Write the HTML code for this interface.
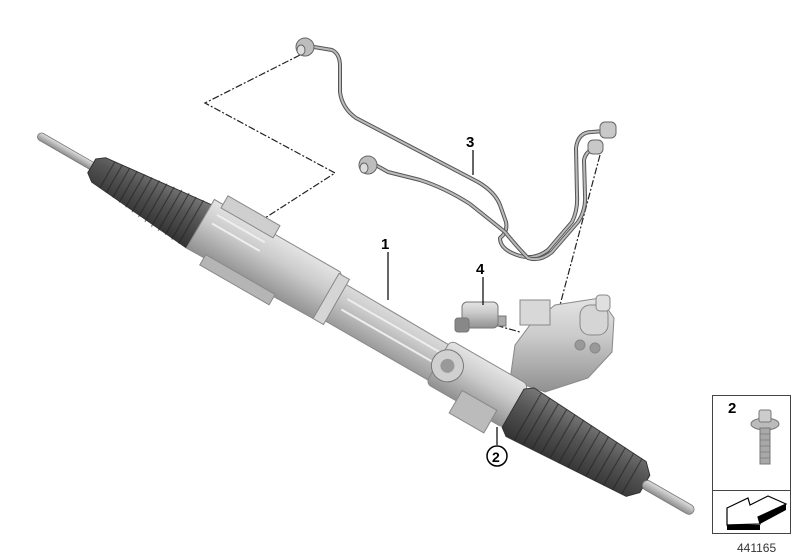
<!DOCTYPE html>
<html><head><meta charset="utf-8"><style>
html,body{margin:0;padding:0;background:#fff;}
svg{display:block}
text{font-family:"Liberation Sans",sans-serif;font-weight:bold;}
text.n{font-weight:normal;}
</style></head><body>
<svg width="800" height="560" viewBox="0 0 800 560" xmlns="http://www.w3.org/2000/svg">
<defs>
<linearGradient id="met" x1="0" y1="0" x2="0" y2="1">
<stop offset="0" stop-color="#e4e4e4"/><stop offset="0.4" stop-color="#cbcbcb"/><stop offset="1" stop-color="#909090"/></linearGradient>
<linearGradient id="boot" x1="0" y1="0" x2="0" y2="1">
<stop offset="0" stop-color="#777"/><stop offset="0.4" stop-color="#555"/><stop offset="1" stop-color="#333"/></linearGradient>
<linearGradient id="rod" x1="0" y1="0" x2="0" y2="1">
<stop offset="0" stop-color="#e0e0e0"/><stop offset="1" stop-color="#8c8c8c"/></linearGradient>
</defs>

<g fill="none" stroke="#222" stroke-width="1.2" stroke-dasharray="7,2,2,2">
<polyline points="300,55 205,103 335,173 265,218"/>
<line x1="600" y1="155" x2="560" y2="305"/>
<line x1="484" y1="322" x2="520" y2="332"/>
</g>

<g fill="none" stroke-linecap="round" stroke-linejoin="round">
<path d="M308,46 L332,50 Q340,54 340,66 L340,92 Q342,108 356,118 L478,182 Q495,192 500,205 L506,222 Q508,232 500,238 Q500,250 520,256 Q535,260 548,250 L572,222 Q578,210 577,195 L576,148 Q578,132 592,132 L604,131" stroke="#555" stroke-width="4"/>
<path d="M308,46 L332,50 Q340,54 340,66 L340,92 Q342,108 356,118 L478,182 Q495,192 500,205 L506,222 Q508,232 500,238 Q500,250 520,256 Q535,260 548,250 L572,222 Q578,210 577,195 L576,148 Q578,132 592,132 L604,131" stroke="#bbb" stroke-width="2"/>
<path d="M372,163 L388,172 L420,180 Q445,188 470,204 L505,232 Q518,248 528,258 Q540,262 552,252 L578,222 Q586,210 585,195 L584,160 Q586,150 596,149" stroke="#555" stroke-width="4"/>
<path d="M372,163 L388,172 L420,180 Q445,188 470,204 L505,232 Q518,248 528,258 Q540,262 552,252 L578,222 Q586,210 585,195 L584,160 Q586,150 596,149" stroke="#bbb" stroke-width="2"/>
</g>
<g stroke="#666" stroke-width="1">
<ellipse cx="305" cy="47" rx="9" ry="9" fill="#bdbdbd"/><ellipse cx="301" cy="50" rx="4" ry="5" fill="#ddd"/>
<ellipse cx="368" cy="165" rx="9" ry="9" fill="#bdbdbd"/><ellipse cx="364" cy="168" rx="4" ry="5" fill="#ddd"/>
<rect x="600" y="122" width="16" height="16" rx="5" fill="#c8c8c8"/>
<rect x="588" y="140" width="15" height="14" rx="5" fill="#c8c8c8"/>
</g>

<!-- pinion housing (behind rack) -->
<g stroke="#888" stroke-width="1">
<path d="M515,345 L530,325 L555,305 L600,298 L614,318 L612,352 L588,378 L545,392 L510,380 Z" fill="url(#met)"/>
<rect x="520" y="300" width="30" height="25" fill="#d8d8d8"/>
<rect x="580" y="305" width="28" height="30" rx="10" fill="#d5d5d5"/>
<rect x="596" y="295" width="14" height="16" rx="4" fill="#e0e0e0"/>
<circle cx="580" cy="345" r="5" fill="#999"/><circle cx="595" cy="348" r="5" fill="#999"/>
</g>

<g transform="translate(38,135) rotate(29.9)">
<rect x="0" y="-4" width="70" height="8" rx="4" fill="url(#rod)" stroke="#777" stroke-width="0.8"/>
<path d="M62,-8 L70,-14 L185,-26 L190,-20 L190,20 L185,24 L70,14 L62,8 Z" fill="url(#boot)" stroke="#333" stroke-width="1"/>
<g stroke="#222" stroke-width="1.2" opacity="0.6">
<line x1="80" y1="-15" x2="80" y2="15"/><line x1="88" y1="-16" x2="88" y2="16"/><line x1="96" y1="-17" x2="96" y2="17"/><line x1="104" y1="-18" x2="104" y2="18"/><line x1="112" y1="-19" x2="112" y2="19"/><line x1="120" y1="-20" x2="120" y2="20"/><line x1="128" y1="-21" x2="128" y2="21"/><line x1="136" y1="-22" x2="136" y2="22"/><line x1="144" y1="-23" x2="144" y2="23"/><line x1="152" y1="-24" x2="152" y2="23"/><line x1="160" y1="-25" x2="160" y2="23"/><line x1="168" y1="-25" x2="168" y2="24"/><line x1="176" y1="-26" x2="176" y2="24"/>
</g>
<path d="M185,-32 L330,-32 L340,-24 L560,-22 L560,18 L340,18 L330,22 L185,24 Z" fill="url(#met)" stroke="#888" stroke-width="1"/>
<rect x="195" y="-42" width="60" height="14" fill="#cfcfcf" stroke="#888"/>
<rect x="205" y="20" width="80" height="12" fill="#b5b5b5" stroke="#888"/>
<g stroke="#eee" stroke-width="2"><line x1="195" y1="-20" x2="250" y2="-20"/><line x1="195" y1="-10" x2="250" y2="-10"/><line x1="350" y1="-12" x2="460" y2="-12"/><line x1="350" y1="0" x2="460" y2="0"/></g>
<rect x="330" y="-30" width="12" height="52" fill="#d5d5d5" stroke="#888"/>
<rect x="460" y="-28" width="90" height="50" rx="6" fill="url(#met)" stroke="#888"/>
<circle cx="470" cy="-4" r="16" fill="#d0d0d0" stroke="#777"/><circle cx="470" cy="-4" r="7" fill="#999"/>
<rect x="495" y="10" width="40" height="26" fill="#bbb" stroke="#888"/>
<path d="M548,-22 L556,-28 L690,-20 L700,-10 L700,10 L690,20 L556,28 L548,22 Z" fill="url(#boot)" stroke="#333"/>
<g stroke="#222" stroke-width="1.2" opacity="0.6">
<line x1="565" y1="-27" x2="565" y2="27"/><line x1="575" y1="-27" x2="575" y2="27"/><line x1="585" y1="-26" x2="585" y2="26"/><line x1="595" y1="-26" x2="595" y2="26"/><line x1="605" y1="-25" x2="605" y2="25"/><line x1="615" y1="-25" x2="615" y2="25"/><line x1="625" y1="-24" x2="625" y2="24"/><line x1="635" y1="-23" x2="635" y2="23"/><line x1="645" y1="-23" x2="645" y2="23"/><line x1="655" y1="-22" x2="655" y2="22"/><line x1="665" y1="-22" x2="665" y2="22"/><line x1="675" y1="-21" x2="675" y2="21"/><line x1="685" y1="-20" x2="685" y2="20"/>
</g>
<rect x="698" y="-5" width="58" height="10" rx="5" fill="url(#rod)" stroke="#777" stroke-width="0.8"/>
</g>

<g stroke="#777" stroke-width="1">
<rect x="462" y="302" width="36" height="26" rx="5" fill="url(#met)"/>
<rect x="455" y="318" width="14" height="14" rx="3" fill="#888"/>
<rect x="498" y="316" width="8" height="10" fill="#aaa"/>
</g>

<g stroke="#000" stroke-width="1.2">
<line x1="473" y1="150" x2="473" y2="175"/>
<line x1="388" y1="252" x2="388" y2="300"/>
<line x1="483" y1="277" x2="483" y2="305"/>
<line x1="497" y1="427" x2="497" y2="445"/>
</g>
<text x="466" y="147" font-size="15">3</text>
<text x="381" y="249" font-size="15">1</text>
<text x="476" y="274" font-size="15">4</text>
<circle cx="497" cy="456" r="10" fill="#fff" stroke="#000" stroke-width="1.5"/>
<text x="492" y="462" font-size="14">2</text>

<rect x="712.5" y="395.5" width="78" height="138" fill="#fff" stroke="#444" stroke-width="1"/>
<line x1="712" y1="490.5" x2="791" y2="490.5" stroke="#444"/>
<text x="728" y="413" font-size="15">2</text>
<ellipse cx="765" cy="424" rx="14" ry="6" fill="#bbb" stroke="#777"/>
<rect x="759" y="410" width="12" height="12" rx="2" fill="#ccc" stroke="#777"/>
<rect x="760" y="428" width="10" height="36" fill="#a8a8a8" stroke="#777"/>
<g stroke="#777" stroke-width="0.7"><line x1="760" y1="434" x2="770" y2="434"/><line x1="760" y1="440" x2="770" y2="440"/><line x1="760" y1="446" x2="770" y2="446"/><line x1="760" y1="452" x2="770" y2="452"/><line x1="760" y1="458" x2="770" y2="458"/></g>
<path d="M727,508 L748,498 L750,505 L768,496 L786,504 L758,517 L760,524 L727,525 Z" fill="#fff" stroke="#000" stroke-width="1.2"/>
<path d="M727,525 L760,525 L760,530 L727,530 Z" fill="#000"/>
<path d="M758,517 L786,504 L786,510 L760,524 Z" fill="#000"/>
<text class="n" x="737" y="552" font-size="12" fill="#333">441165</text>
</svg>
</body></html>
